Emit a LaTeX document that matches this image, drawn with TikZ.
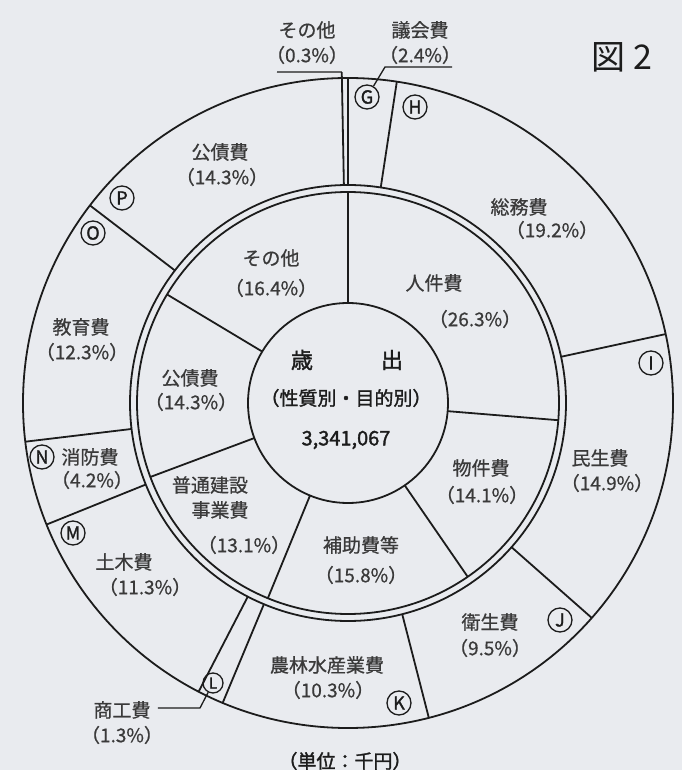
\documentclass[tikz,border=0pt]{standalone}
\usepackage{fontspec}
\setmainfont{Noto Sans CJK JP}
\setsansfont{Noto Sans CJK JP}
\newfontfamily\heavy{Noto Sans CJK JP}[FakeBold=1.6]
\newfontfamily\semi{Noto Sans CJK JP}[FakeBold=0.7]
\definecolor{bg}{RGB}{233,235,239}
\definecolor{ink}{RGB}{28,28,28}
\definecolor{txt}{RGB}{58,58,58}
\tikzset{
  lbl/.style={text=txt,font=\semi\fontsize{19}{21}\selectfont,inner sep=0pt},
  mid/.style={text=ink,font=\heavy\fontsize{19}{21}\selectfont,inner sep=0pt},
  tag/.style={circle,draw=ink,line width=1.3pt,inner sep=0pt,minimum size=24pt,
    text=ink,font=\heavy\fontsize{18}{18}\selectfont},
  lead/.style={line width=1.3pt}
}
\begin{document}
\begin{tikzpicture}[x=1pt,y=1pt,color=ink,line width=1.8pt]
  \fill[bg] (-348,-367) rectangle (334,403);
  \useasboundingbox (-348,-367) rectangle (334,403);
  % rings
  \draw (0,0) circle (325);
  \draw (0,0) circle (218);
  \draw (0,0) circle (211);
  \draw (0,0) circle (100);
  % inner ring
  \begin{scope}
    \draw (90:100) -- (90:211);
    \draw (-4.68:100) -- (-4.68:211);
    \draw (-55.44:100) -- (-55.44:211);
    \draw (-112.32:100) -- (-112.32:211);
    \draw (-159.48:100) -- (-159.48:211);
    \draw (149.04:100) -- (149.04:211);
  \end{scope}
  % outer ring
  \begin{scope}
    \draw (90:218) -- (90:325);
    \draw (81.36:218) -- (81.36:325);
    \draw (12.24:218) -- (12.24:325);
    \draw (-41.4:218) -- (-41.4:325);
    \draw (-75.6:218) -- (-75.6:325);
    \draw (-112.68:218) -- (-112.68:325);
    \draw (-117.36:218) -- (-117.36:325);
    \draw (-158.04:218) -- (-158.04:325);
    \draw (-173.16:218) -- (-173.16:325);
    \draw (142.56:218) -- (142.56:325);
  \end{scope}
  % centre
  \node[mid,font=\heavy\fontsize{22}{24}\selectfont] (sai) at (-46,43) {歳};
  \node[mid,font=\heavy\fontsize{22}{24}\selectfont] (shutsu) at (44,43) {出};
  \node[mid] (kind) at (-2,5) {（性質別・目的別）};
  \node[mid,font=\heavy\fontsize{20}{22}\selectfont] (total) at (-2,-37) {3,341,067};
  % inner labels
  \node[lbl] (jinken) at (86,120) {人件費};
  \node[lbl] (jinkenp) at (127,84) {（26.3\%）};
  \node[lbl] (bukken) at (133,-65) {物件費};
  \node[lbl] (bukkenp) at (134,-92) {（14.1\%）};
  \node[lbl] (hojo) at (13,-142) {補助費等};
  \node[lbl] (hojop) at (13,-172) {（15.8\%）};
  \node[lbl] (futsu) at (-138,-82) {普通建設};
  \node[lbl] (jigyo) at (-128,-107) {事業費};
  \node[lbl] (futsup) at (-104,-142) {（13.1\%）};
  \node[lbl] (kosai) at (-158,25) {公債費};
  \node[lbl] (kosaip) at (-157,1) {（14.3\%）};
  \node[lbl] (sonota) at (-77,145) {その他};
  \node[lbl] (sonotap) at (-77,115) {（16.4\%）};
  % outer labels
  \node[lbl] (osonota) at (-41,373) {その他};
  \node[lbl] (osonotap) at (-41,348) {（0.3\%）};
  \node[lbl] (gikai) at (72,373) {議会費};
  \node[lbl] (gikaip) at (72,348) {（2.4\%）};
  \node[lbl] (somu) at (171,196) {総務費};
  \node[lbl] (somup) at (204,173) {（19.2\%）};
  \node[lbl] (minsei) at (252,-55) {民生費};
  \node[lbl] (minseip) at (259,-80) {（14.9\%）};
  \node[lbl] (eisei) at (142,-219) {衛生費};
  \node[lbl] (eiseip) at (142,-245) {（9.5\%）};
  \node[lbl] (norin) at (-21,-262) {農林水産業費};
  \node[lbl] (norinp) at (-20,-287) {（10.3\%）};
  \node[lbl] (shoko) at (-226,-307) {商工費};
  \node[lbl] (shokop) at (-226,-332) {（1.3\%）};
  \node[lbl] (doboku) at (-224,-159) {土木費};
  \node[lbl] (dobokup) at (-203,-184) {（11.3\%）};
  \node[lbl] (shobo) at (-258,-54) {消防費};
  \node[lbl] (shobop) at (-256,-77) {（4.2\%）};
  \node[lbl] (kyoiku) at (-267,76) {教育費};
  \node[lbl] (kyoikup) at (-266,51) {（12.3\%）};
  \node[lbl] (okosai) at (-128,251) {公債費};
  \node[lbl] (okosaip) at (-126,226) {（14.3\%）};
  % letters
  \node[tag] (G) at (19,306) {G};
  \node[tag] (H) at (67,296) {H};
  \node[tag] (I) at (303,40) {I};
  \node[tag] (J) at (212,-217) {J};
  \node[tag] (K) at (51,-300) {K};
  \node[tag,minimum size=20pt,font=\heavy\fontsize{15}{15}\selectfont] (L) at (-135,-280) {L};
  \node[tag] (M) at (-275,-130) {M};
  \node[tag] (N) at (-306,-54) {N};
  \node[tag] (O) at (-255,170) {O};
  \node[tag] (P) at (-226,205) {P};
  % leaders
  \coordinate (gk) at (37,336);
  \coordinate (ge) at (104,336);
  \coordinate (ok) at (91.08:331);
  \coordinate (oe) at (-71,331);
  \coordinate (lk) at (-148,-305);
  \coordinate (le) at (-190,-305);
  \draw (91.08:218) -- (ok);
  \draw[lead] (ok) -- (oe);
  \draw[lead] (G) -- (gk) -- (ge);
  \draw[lead] (L) -- (lk) -- (le);
  % unit and title
  \node[mid] (unit) at (-3,-358) {（単位：千円）};
  \node[text=ink,font=\fontsize{34}{36}\selectfont,inner sep=0pt] (title) at (274,346) {図 2};
\end{tikzpicture}
\end{document}
